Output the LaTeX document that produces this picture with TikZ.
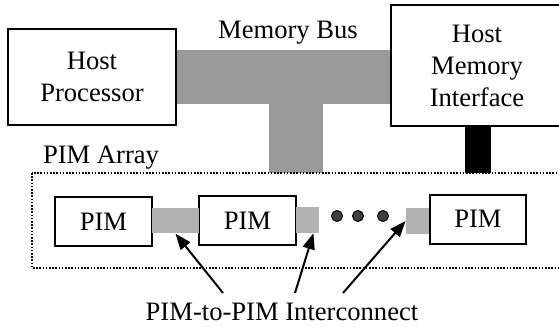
\documentclass[tikz,border=0pt]{standalone}
\usepackage{fontspec}
\setmainfont{Liberation Serif}
\usetikzlibrary{arrows.meta, positioning, calc}

\begin{document}
\begin{tikzpicture}[
  x=0.5pt, y=-0.5pt,
  font=\fontsize{13.3}{16}\selectfont,
  >={Triangle[length=8pt, width=6pt]},
  block/.style={rectangle, draw=black, line width=1pt, fill=white,
                align=center, inner sep=0pt},
  pim/.style={block, minimum width=48.5pt, minimum height=24.5pt},
  link/.style={rectangle, fill=black!30, inner sep=0pt,
               minimum width=11.5pt, minimum height=12.8pt},
  dot/.style={circle, draw=black, fill=black!75, line width=0.5pt,
              minimum size=5.5pt, inner sep=0pt},
  arrow/.style={->, line width=1pt}
]
\useasboundingbox (0,0) rectangle (559,327);

% --- memory bus and host memory link ---
\fill[black!40] (176,50) rectangle (391,104);
\fill[black!40] (269,104) rectangle (323,173);
\fill[black] (465,126) rectangle (491,173);
\node (buslbl) at (288,33) {Memory Bus};

% --- host side ---
\node[block, minimum width=84pt, minimum height=48pt] (hp) at (92,77)
  {Host\\Processor};
\node[block, minimum width=86pt, minimum height=60.5pt] (hmi) at (477,65.5)
  {Host\\Memory\\Interface};

% --- PIM array ---
\draw[line width=1pt, dash pattern=on 0.8pt off 0.8pt] (32,173) rectangle (566,268);
\node (arraylbl) at (101,158) {PIM Array};

\node[pim] (p1) at (103.5,221.5) {PIM};
\node[pim] (p2) at (247.5,220.5) {PIM};
\node[pim, minimum width=48pt] (p3) at (478,219) {PIM};

\node[link, minimum width=23.5pt] (l1) at (175.5,220.5) {};
\node[link] (l2) at (307.5,220) {};
\node[link] (l3) at (417.5,221) {};

\foreach \x [count=\i] in {337,358,383}
  \node[dot] (d\i) at (\x,216) {};

% --- interconnect label ---
\node (iclbl) at (282,312) {PIM-to-PIM Interconnect};
\coordinate (t1) at (223,293);
\coordinate (t2) at (295,293);
\coordinate (t3) at (343,293);
\draw[arrow] (t1) -- (l1.south);
\draw[arrow] (t2) -- ($(l2.south)!0.5!(l2.south east)$);
\draw[arrow] (t3) -- (l3.west);
\end{tikzpicture}
\end{document}
